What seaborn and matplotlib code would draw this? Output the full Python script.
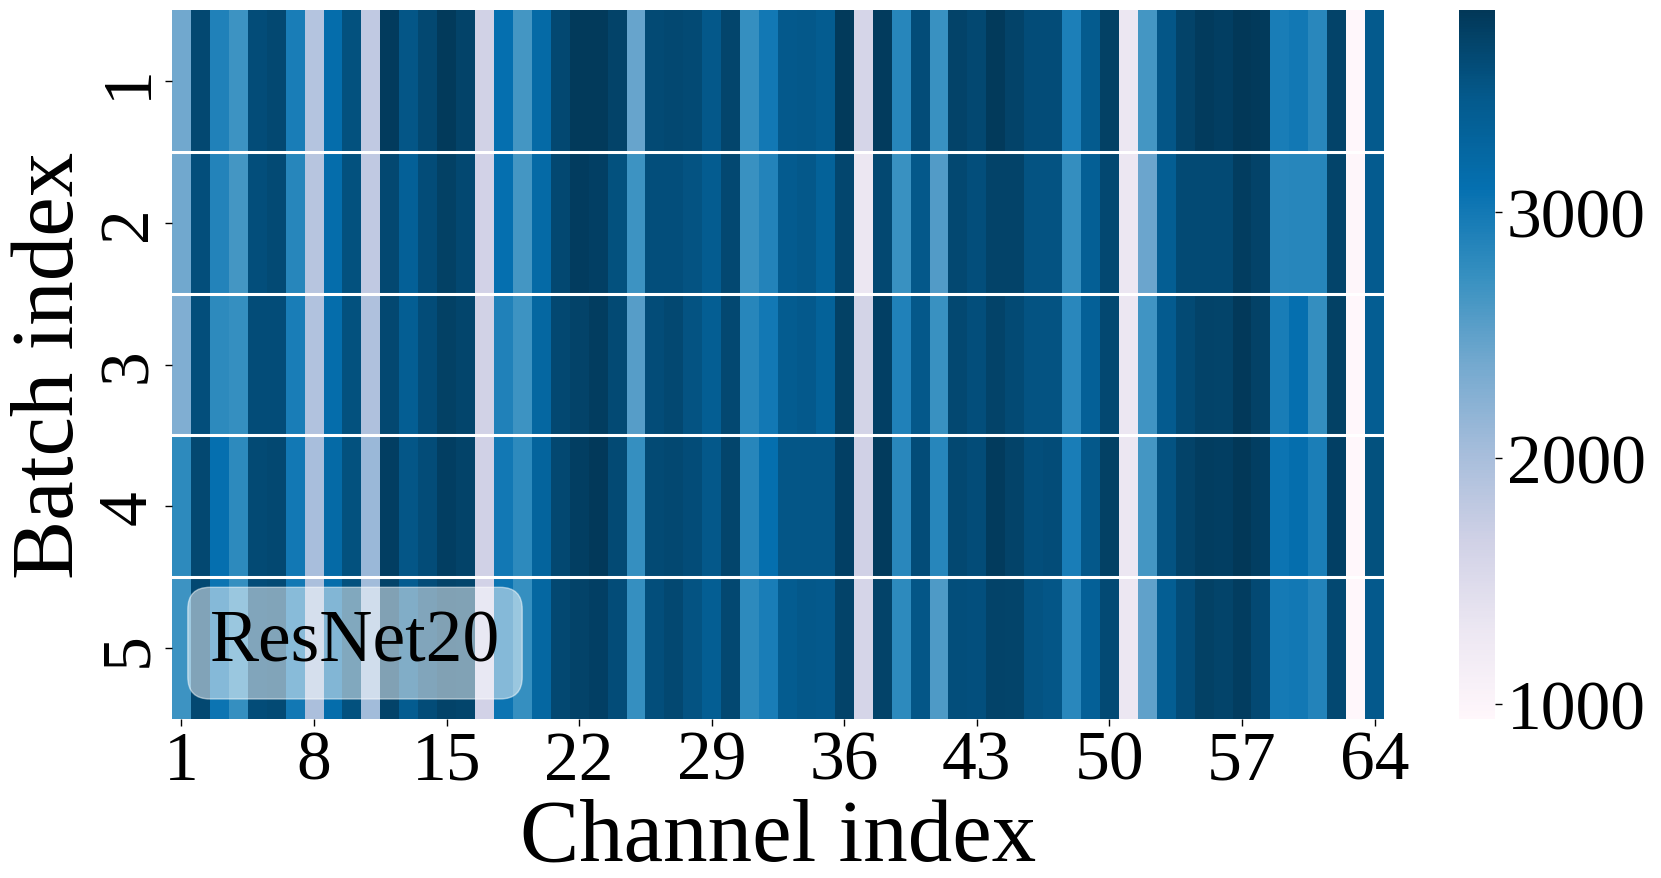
import numpy as np
import pandas as pd
import matplotlib
matplotlib.use("Agg")
import matplotlib.pyplot as plt
import seaborn as sns

# ---- data ----
batch_labels = ["1", "2", "3", "4", "5"]
channel_labels = [str(i) for i in range(1, 65)]
xtick_channels = [1, 8, 15, 22, 29, 36, 43, 50, 57, 64]
cbar_ticks = [1000, 2000, 3000]

batch1 = [2400, 3650, 2900, 2700, 3600, 3650, 2950, 1900, 3150, 3550, 1800, 3780, 3500, 3650, 3790, 3700, 1650,
          3100, 2650, 3200, 3650, 3790, 3790, 3700, 2450, 3620, 3650, 3620, 3480, 3680, 2750, 3000, 3460,
          3480, 3420, 3790, 1600, 3780, 2850, 3600, 2720, 3700, 3650, 3790, 3700, 3600, 3600, 2930, 3440,
          3720, 1300, 2650, 3500, 3700, 3780, 3750, 3820, 3790, 2950, 3000, 2840, 3700, 940, 3450]
batch2 = [2400, 3580, 2880, 2650, 3580, 3620, 2850, 1880, 3150, 3560, 1800, 3650, 3350, 3600, 3720, 3650, 1640,
          3100, 2650, 3200, 3650, 3770, 3730, 3550, 2700, 3580, 3580, 3530, 3420, 3650, 2720, 2880, 3430,
          3480, 3330, 3670, 1300, 3650, 2720, 3480, 2580, 3650, 3580, 3700, 3700, 3530, 3530, 2760, 3370,
          3650, 1300, 2430, 3400, 3620, 3620, 3620, 3760, 3700, 2830, 2850, 2850, 3690, 970, 3430]
batch3 = [2300, 3580, 2800, 2750, 3600, 3600, 2950, 1920, 3150, 3560, 1950, 3650, 3400, 3600, 3720, 3680, 1650,
          2900, 2700, 3250, 3650, 3700, 3760, 3620, 2550, 3600, 3650, 3530, 3400, 3650, 2850, 3000, 3420,
          3460, 3330, 3720, 1620, 3730, 2900, 3480, 2720, 3650, 3580, 3700, 3620, 3530, 3530, 2830, 3350,
          3650, 1300, 2680, 3430, 3620, 3700, 3690, 3800, 3710, 2950, 3100, 2760, 3720, 950, 3410]
batch4 = [2800, 3650, 3100, 2800, 3620, 3650, 3000, 2000, 3200, 3550, 2100, 3750, 3500, 3600, 3750, 3700, 1660,
          3000, 2800, 3300, 3650, 3750, 3800, 3620, 2750, 3620, 3650, 3600, 3480, 3680, 2850, 3120, 3500,
          3500, 3500, 3730, 1660, 3780, 2830, 3600, 2850, 3650, 3600, 3780, 3700, 3580, 3600, 2950, 3480,
          3720, 1300, 2650, 3530, 3700, 3760, 3750, 3810, 3750, 3050, 3130, 2940, 3730, 950, 3560]
batch5 = [2700, 3650, 3050, 2750, 3600, 3620, 3000, 1980, 3150, 3560, 2050, 3700, 3420, 3600, 3700, 3680, 1640,
          3050, 2750, 3250, 3650, 3700, 3730, 3600, 2750, 3580, 3640, 3530, 3400, 3650, 2800, 2950, 3420,
          3480, 3470, 3700, 1600, 3700, 2800, 3500, 2600, 3580, 3570, 3700, 3690, 3530, 3500, 2830, 3350,
          3620, 1310, 2500, 3400, 3600, 3720, 3690, 3760, 3630, 2980, 3000, 2880, 3650, 950, 3460]

vmin, vmax = 940, 3820

df = pd.DataFrame([batch1, batch2, batch3, batch4, batch5],
                  index=batch_labels, columns=channel_labels)

plt.rcParams['font.family'] = ['Liberation Serif', 'DejaVu Serif']

W, H, DPI = 1661, 879, 100
fig = plt.figure(figsize=(W / DPI, H / DPI), dpi=DPI)
ax = fig.add_axes([172 / W, 1 - 720 / H, (1384 - 172) / W, (720 - 11) / H])
cax = fig.add_axes([1459 / W, 1 - 720 / H, 36 / W, (720 - 11) / H])

sns.heatmap(df, ax=ax, cbar_ax=cax, cmap="PuBu", vmin=vmin, vmax=vmax,
            xticklabels=False, yticklabels=True)

# row separators
for r in range(1, len(batch_labels)):
    ax.axhline(r, color='white', lw=2.2)

# ticks
xpos = [channel_labels.index(str(c)) + 0.5 for c in xtick_channels]
ax.set_xticks(xpos)
ax.set_xticklabels([str(c) for c in xtick_channels], fontsize=50, rotation=0)
ax.set_yticklabels(batch_labels, fontsize=50, rotation=90, va='center')
ax.tick_params(axis='both', length=5, width=1, color='black', pad=3)
ax.set_xlabel("Channel index", fontsize=64, labelpad=3)
ax.set_ylabel("Batch index", fontsize=64, labelpad=4)

cbar = ax.collections[0].colorbar
cbar.set_ticks(cbar_ticks)
cbar.ax.tick_params(labelsize=50, length=5, width=1)
cbar.outline.set_visible(False)

ax.text(0.151, 0.107, "ResNet20", transform=ax.transAxes, fontsize=53,
        ha='center', va='center',
        bbox=dict(boxstyle='round,pad=0.3', facecolor='white', alpha=0.5,
                  edgecolor='white'))

fig.savefig("out.png", dpi=DPI)
